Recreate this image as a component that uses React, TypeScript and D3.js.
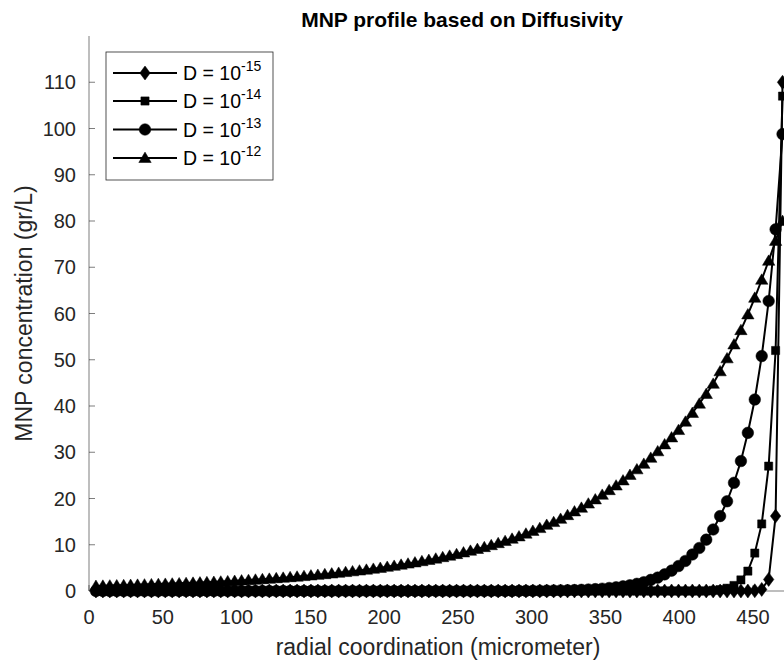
import React from "react";
import * as d3 from "d3";

// Radial grid (micrometer)
const radialCoord = [
  4.7, 9.4, 14.1, 18.8, 23.5, 28.2, 32.9, 37.6, 42.3, 47,
  51.7, 56.4, 61.1, 65.8, 70.5, 75.2, 79.9, 84.6, 89.3, 94,
  98.7, 103.4, 108.1, 112.8, 117.5, 122.2, 126.9, 131.6, 136.3, 141,
  145.7, 150.4, 155.1, 159.8, 164.5, 169.2, 173.9, 178.6, 183.3, 188,
  192.7, 197.4, 202.1, 206.8, 211.5, 216.2, 220.9, 225.6, 230.3, 235,
  239.7, 244.4, 249.1, 253.8, 258.5, 263.2, 267.9, 272.6, 277.3, 282,
  286.7, 291.4, 296.1, 300.8, 305.5, 310.2, 314.9, 319.6, 324.3, 329,
  333.7, 338.4, 343.1, 347.8, 352.5, 357.2, 361.9, 366.6, 371.3, 376,
  380.7, 385.4, 390.1, 394.8, 399.5, 404.2, 408.9, 413.6, 418.3, 423,
  427.7, 432.4, 437.1, 441.8, 446.5, 451.2, 455.9, 460.6, 465.3, 470,
];

// MNP concentration (gr/L) for each diffusivity
const concD15 = [
  0, 0, 0, 0, 0, 0, 0, 0, 0, 0,
  0, 0, 0, 0, 0, 0, 0, 0, 0, 0,
  0, 0, 0, 0, 0, 0, 0, 0, 0, 0,
  0, 0, 0, 0, 0, 0, 0, 0, 0, 0,
  0, 0, 0, 0, 0, 0, 0, 0, 0, 0,
  0, 0, 0, 0, 0, 0, 0, 0, 0, 0,
  0, 0, 0, 0, 0, 0, 0, 0, 0, 0,
  0, 0, 0, 0, 0, 0, 0, 0, 0, 0,
  0, 0, 0, 0, 0, 0, 0, 0, 0, 0,
  0, 0, 0, 0, 0, 0.05, 0.35, 2.5, 16.2, 110,
];

const concD14 = [
  0, 0, 0, 0, 0, 0, 0, 0, 0, 0,
  0, 0, 0, 0, 0, 0, 0, 0, 0, 0,
  0, 0, 0, 0, 0, 0, 0, 0, 0, 0,
  0, 0, 0, 0, 0, 0, 0, 0, 0, 0,
  0, 0, 0, 0, 0, 0, 0, 0, 0, 0,
  0, 0, 0, 0, 0, 0, 0, 0, 0, 0,
  0, 0, 0, 0, 0, 0, 0, 0, 0, 0,
  0, 0, 0, 0, 0, 0, 0, 0, 0, 0,
  0, 0, 0, 0, 0, 0, 0, 0, 0, 0.15,
  0.3, 0.6, 1.2, 2.4, 4.3, 8.2, 14.5, 27, 52, 107,
];

const concD13 = [
  0, 0, 0, 0, 0, 0, 0, 0, 0, 0,
  0, 0, 0, 0, 0, 0, 0, 0, 0, 0,
  0, 0, 0, 0, 0, 0, 0, 0, 0, 0,
  0, 0, 0, 0, 0, 0, 0, 0, 0, 0,
  0, 0, 0, 0, 0, 0, 0, 0, 0, 0,
  0, 0, 0, 0, 0, 0, 0, 0, 0, 0,
  0, 0.02, 0.03, 0.04, 0.05, 0.07, 0.09, 0.12, 0.15, 0.2,
  0.25, 0.32, 0.4, 0.5, 0.65, 0.8, 1.0, 1.25, 1.55, 1.9,
  2.4, 2.9, 3.6, 4.4, 5.4, 6.5, 7.9, 9.3, 11.1, 13.3,
  16.2, 19.4, 23.4, 28.1, 34.2, 41.4, 50.8, 62.7, 78.2, 98.8,
];

const concD12 = [
  1.1, 1.14, 1.18, 1.22, 1.26, 1.31, 1.35, 1.4, 1.45, 1.5,
  1.55, 1.6, 1.66, 1.72, 1.78, 1.84, 1.9, 1.97, 2.03, 2.1,
  2.18, 2.27, 2.36, 2.45, 2.55, 2.65, 2.76, 2.87, 2.98, 3.1,
  3.22, 3.35, 3.49, 3.63, 3.78, 3.93, 4.09, 4.25, 4.42, 4.6,
  4.8, 5.0, 5.22, 5.44, 5.68, 5.92, 6.17, 6.44, 6.71, 7.0,
  7.31, 7.63, 7.97, 8.33, 8.7, 9.08, 9.48, 9.9, 10.34, 10.8,
  11.3, 11.8, 12.4, 13.0, 13.6, 14.3, 14.9, 15.6, 16.4, 17.2,
  18.0, 18.9, 19.8, 20.8, 21.8, 22.8, 23.9, 25.1, 26.3, 27.5,
  28.8, 30.2, 31.7, 33.2, 34.8, 36.6, 38.5, 40.5, 42.6, 44.8,
  47.5, 50.3, 53.3, 56.4, 59.8, 63.4, 67.3, 71.4, 75.7, 80.0,
];

const legendExponents = ["-15", "-14", "-13", "-12"];
const markerKinds = ["diamond", "square", "circle", "triangle"];
const xTicks = [0, 50, 100, 150, 200, 250, 300, 350, 400, 450];
const yTicks = [0, 10, 20, 30, 40, 50, 60, 70, 80, 90, 100, 110];

const W = 784;
const H = 660;
const FONT = "'Liberation Sans', Arial, Helvetica, sans-serif";
const AXIS_COLOR = "#262626";

const x = d3.scaleLinear().domain([0, 500]).range([89, 826.8]);
const y = d3.scaleLinear().domain([0, 120]).range([591, 36]);

function markerPath(kind: string): string {
  if (kind === "diamond") {
    const w = 5.2, h = 7;
    return `M0,${-h}L${w},0L0,${h}L${-w},0Z`;
  }
  if (kind === "square") {
    const s = 4.1;
    return `M${-s},${-s}L${s},${-s}L${s},${s}L${-s},${s}Z`;
  }
  if (kind === "circle") {
    return d3.symbol().type(d3.symbolCircle).size(Math.PI * 5.8 * 5.8)() as string;
  }
  const w = 6.2, top = -5.9, bot = 4.5;
  return `M0,${top}L${w},${bot}L${-w},${bot}Z`;
}

const seriesValues = [concD15, concD14, concD13, concD12];

export default function App() {
  const line = d3
    .line<number>()
    .x((_, i) => x(radialCoord[i]))
    .y((v) => y(v));

  const legendRows = [73, 101, 129.5, 158];

  return (
    <svg
      width={W}
      height={H}
      style={{ position: "absolute", left: 0, top: 0, background: "#fff" }}
      fontFamily={FONT}
    >
      <rect x={0} y={0} width={W} height={H} fill="#fff" />

      {/* axes */}
      <line x1={x(0)} x2={x(0)} y1={y(120)} y2={y(0)} stroke={AXIS_COLOR} strokeWidth={0.6} />
      <line x1={x(0)} x2={x(500)} y1={y(0)} y2={y(0)} stroke={AXIS_COLOR} strokeWidth={0.6} />
      {yTicks.map((t) => (
        <g key={"y" + t}>
          <line x1={x(0)} x2={x(0) + 6} y1={y(t)} y2={y(t)} stroke={AXIS_COLOR} strokeWidth={0.6} />
          <text
            x={x(0) - 13}
            y={y(t)}
            textAnchor="end"
            dominantBaseline="central"
            fontSize={20}
            fill={AXIS_COLOR}
          >
            {t}
          </text>
        </g>
      ))}
      {xTicks.map((t) => (
        <g key={"x" + t}>
          <line x1={x(t)} x2={x(t)} y1={y(0)} y2={y(0) - 6} stroke={AXIS_COLOR} strokeWidth={0.6} />
          <text
            x={x(t)}
            y={y(0) + 33}
            textAnchor="middle"
            fontSize={20}
            fill={AXIS_COLOR}
          >
            {t}
          </text>
        </g>
      ))}

      {/* series: line with filled markers */}
      {seriesValues.map((vals, si) => {
        const d = markerPath(markerKinds[si]);
        return (
          <g key={"s" + si}>
            <path d={line(vals) as string} fill="none" stroke="#000" strokeWidth={2} />
            {vals.map((v, i) => (
              <path
                key={i}
                d={d}
                transform={`translate(${x(radialCoord[i])},${y(v)})`}
                fill="#000"
                stroke="#000"
                strokeWidth={0.5}
              />
            ))}
          </g>
        );
      })}

      {/* titles */}
      <text
        x={462}
        y={27}
        textAnchor="middle"
        fontSize={21}
        fontWeight="bold"
        fill="#000"
      >
        MNP profile based on Diffusivity
      </text>
      <text
        x={438}
        y={655}
        textAnchor="middle"
        fontSize={23}
        fill={AXIS_COLOR}
      >
        radial coordination (micrometer)
      </text>
      <text
        transform={`translate(32,${(y(0) + y(120)) / 2}) rotate(-90)`}
        textAnchor="middle"
        fontSize={23}
        fill={AXIS_COLOR}
      >
        MNP concentration (gr/L)
      </text>

      {/* legend */}
      <rect x={106} y={52} width={167} height={128} fill="#fff" stroke={AXIS_COLOR} strokeWidth={0.8} />
      {legendExponents.map((e, i) => (
        <g key={"l" + i}>
          <line x1={113} x2={177} y1={legendRows[i]} y2={legendRows[i]} stroke="#000" strokeWidth={2} />
          <path
            d={markerPath(markerKinds[i])}
            transform={`translate(145,${legendRows[i]})`}
            fill="#000"
            stroke="#000"
            strokeWidth={0.5}
          />
          <text x={183} y={legendRows[i] + 7} fontSize={19.5} fill="#000">
            D = 10
            <tspan dy={-9} fontSize={14}>
              {e}
            </tspan>
          </text>
        </g>
      ))}
    </svg>
  );
}
